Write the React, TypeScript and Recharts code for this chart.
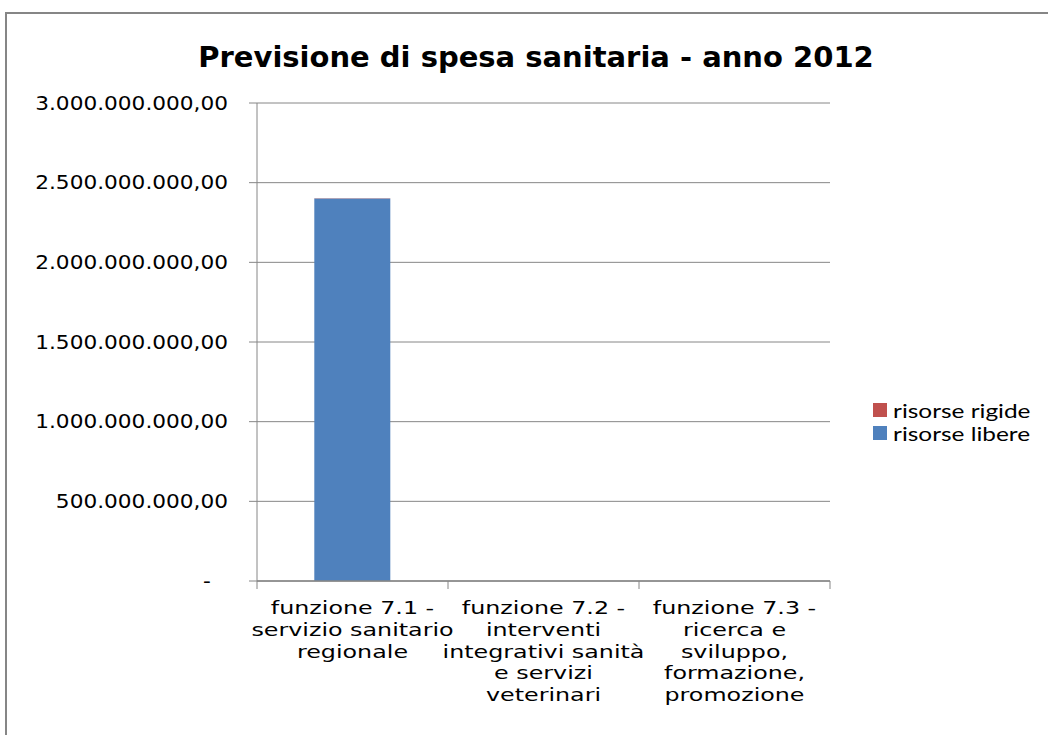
import React from 'react';
import { BarChart, Bar, LineChart, Line, XAxis, YAxis, CartesianGrid, Legend } from 'recharts';

const categories = [
  'funzione 7.1 - servizio sanitario regionale',
  'funzione 7.2 - interventi integrativi sanità e servizi veterinari',
  'funzione 7.3 - ricerca e sviluppo, formazione, promozione',
];
const categoryLines = [
  ['funzione 7.1 -', 'servizio sanitario', 'regionale'],
  ['funzione 7.2 -', 'interventi', 'integrativi sanità', 'e servizi', 'veterinari'],
  ['funzione 7.3 -', 'ricerca e', 'sviluppo,', 'formazione,', 'promozione'],
];
const risorseLibere = [2400000000, 0, 0];
const risorseRigide = [1500000, 0, 0];
const yTicks = [0, 500000000, 1000000000, 1500000000, 2000000000, 2500000000, 3000000000];
const boundTicks = [0, 1, 2, 3];
const seriesNames = ['risorse rigide', 'risorse libere'];
const seriesColors = ['#C0504D', '#4F81BD'];
const title = 'Previsione di spesa sanitaria - anno 2012';

const data = categories.map((c, i) => ({
  name: c,
  libere: risorseLibere[i],
  rigide: risorseRigide[i],
}));
const boundData = boundTicks.map((b) => ({ pos: b, base: 0 }));

const GRAY = '#868686';
const AXIS_FONT = '"DejaVu Sans", Verdana, sans-serif';
const LEGEND_W = 175;

function fmt(v: number): string {
  if (v === 0) return '-';
  const int = Math.round(v).toString();
  const parts: string[] = [];
  for (let i = int.length; i > 0; i -= 3) parts.unshift(int.slice(Math.max(0, i - 3), i));
  return parts.join('.') + ',00';
}

const YTick = (props: any) => {
  const { x, y, payload } = props;
  const v = payload.value as number;
  return (
    <text transform={`translate(${x},${y}) scale(1.14,1)`} x={0} y={0} dx={v === 0 ? -15 : 0} dy="0.355em" textAnchor="end" fontFamily={AXIS_FONT} fontSize={19} fill="#000">
      {fmt(v)}
    </text>
  );
};

const XTick = (props: any) => {
  const { x, y, index } = props;
  const lines = categoryLines[index] || [];
  return (
    <text transform={`translate(${x},${y}) scale(1.36,1)`} x={0} y={0} textAnchor="middle" fontFamily={AXIS_FONT} fontSize={17.5} fill="#000">
      {lines.map((l, i) => (
        <tspan key={i} x={0} dy={i === 0 ? '0.75em' : 21.7}>{l}</tspan>
      ))}
    </text>
  );
};

const EmptyTick = () => <g />;

const LegendContent = () => (
  <div style={{ fontFamily: 'Lato, "Open Sans", sans-serif', fontSize: 20, color: '#000' }}>
    {seriesNames.map((n, i) => (
      <div key={n} style={{ display: 'flex', alignItems: 'center', height: 23 }}>
        <span style={{ display: 'inline-block', width: 14, height: 14, background: seriesColors[i], marginRight: 6 }} />
        <span style={{ display: 'inline-block', transform: 'scaleX(1.22)', transformOrigin: 'left center', whiteSpace: 'nowrap' }}>{n}</span>
      </div>
    ))}
  </div>
);

export default function App() {
  return (
    <div style={{ position: 'absolute', left: 0, top: 0, width: 1048, height: 735, background: '#fff', overflow: 'hidden' }}>
      <div style={{ position: 'absolute', left: 5, top: 12, width: 1100, height: 800, borderLeft: `2px solid ${GRAY}`, borderTop: `2px solid ${GRAY}`, boxSizing: 'border-box' }} />
      <div style={{ position: 'absolute', left: 0, top: 0 }}>
        <BarChart width={1048} height={735} data={data} margin={{ top: 103, right: 218 - LEGEND_W, bottom: 0, left: 0 }} barCategoryGap="30%">
          <text x={536} y={67} textAnchor="middle" fontFamily={AXIS_FONT} fontWeight="bold" fontSize={29} fill="#000">{title}</text>
          <CartesianGrid horizontal vertical={false} stroke={GRAY} strokeWidth={1} />
          <XAxis dataKey="name" height={154} axisLine={{ stroke: GRAY }} tickLine={false} tick={<XTick />} tickSize={0} tickMargin={20} interval={0} />
          <YAxis domain={[0, 3000000000]} ticks={yTicks} width={257} tickSize={8} tickMargin={21} axisLine={{ stroke: GRAY }} tickLine={{ stroke: GRAY }} tick={<YTick />} interval={0} />
          <Legend layout="horizontal" verticalAlign="middle" align="right" wrapperStyle={{ position: 'absolute', left: 873, top: 398, width: LEGEND_W }} content={<LegendContent />} />
          <Bar dataKey="libere" name="risorse libere" stackId="a" fill={seriesColors[1]} isAnimationActive={false} />
          <Bar dataKey="rigide" name="risorse rigide" stackId="a" fill={seriesColors[0]} isAnimationActive={false} />
        </BarChart>
      </div>
      <div style={{ position: 'absolute', left: 0, top: 0, pointerEvents: 'none' }}>
        <LineChart width={1048} height={735} data={boundData} margin={{ top: 103, right: 218, bottom: 0, left: 0 }}>
          <XAxis dataKey="pos" type="number" domain={[0, 3]} ticks={boundTicks} height={154} tick={<EmptyTick />} tickSize={8} axisLine={{ stroke: GRAY }} tickLine={{ stroke: GRAY }} allowDataOverflow interval={0} />
          <YAxis width={257} domain={[0, 1]} axisLine={false} tickLine={false} tick={<EmptyTick />} />
          <Line dataKey="base" stroke="none" dot={false} activeDot={false} isAnimationActive={false} legendType="none" />
        </LineChart>
      </div>
    </div>
  );
}
